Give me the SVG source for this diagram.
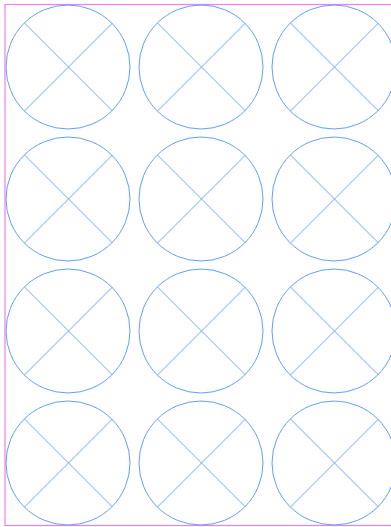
<svg xmlns="http://www.w3.org/2000/svg" width="391" height="527" viewBox="0 0 391 527">
<style>
.c{fill:none;stroke:#5f9fff;stroke-width:1}
.x{fill:none;stroke:#6fa8ff;stroke-width:1}
.b{fill:none;stroke:#f27ef2;stroke-width:1.2}
</style>
<defs>
<g id="sym">
<circle class="c" cx="0" cy="0" r="62"/>
<line class="x" x1="-43.5" y1="-44" x2="44.5" y2="44"/>
<line class="x" x1="44.5" y1="-44" x2="-43.5" y2="44"/>
</g>
</defs>
<rect class="b" x="5" y="4.5" width="400" height="521"/>
<g id="n11"><use href="#sym" x="68" y="67"/></g>
<g id="n12"><use href="#sym" x="201" y="67"/></g>
<g id="n13"><use href="#sym" x="334" y="67"/></g>
<g id="n21"><use href="#sym" x="68" y="199"/></g>
<g id="n22"><use href="#sym" x="201" y="199"/></g>
<g id="n23"><use href="#sym" x="334" y="199"/></g>
<g id="n31"><use href="#sym" x="68" y="331"/></g>
<g id="n32"><use href="#sym" x="201" y="331"/></g>
<g id="n33"><use href="#sym" x="334" y="331"/></g>
<g id="n41"><use href="#sym" x="68" y="463"/></g>
<g id="n42"><use href="#sym" x="201" y="463"/></g>
<g id="n43"><use href="#sym" x="334" y="463"/></g>
<g id="connectors"></g>
</svg>
